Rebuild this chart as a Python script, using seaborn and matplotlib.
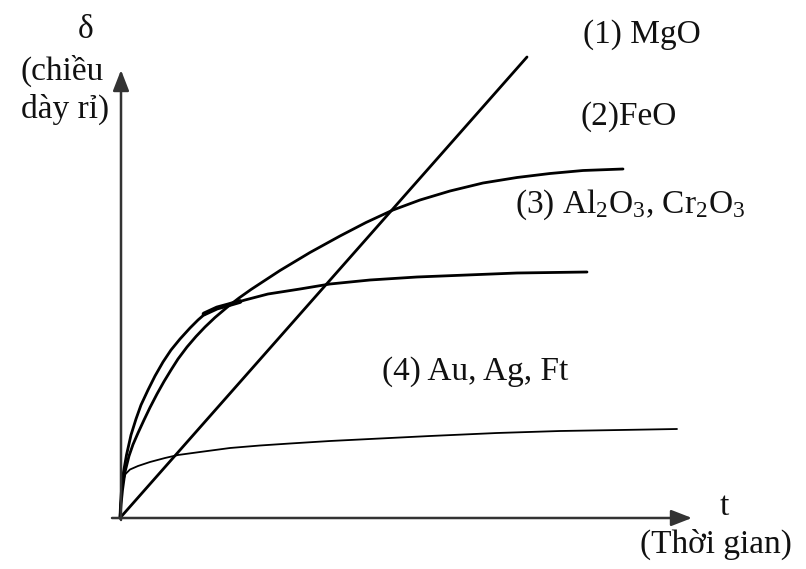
import matplotlib
matplotlib.use("Agg")
import matplotlib.pyplot as plt
import seaborn as sns
import pandas as pd

sns.set_theme(style="white")
plt.rcParams['font.family'] = ['Liberation Serif', 'DejaVu Serif']
plt.rcParams['mathtext.fontset'] = 'custom'
plt.rcParams['mathtext.rm'] = 'Liberation Serif'
plt.rcParams['mathtext.it'] = 'Liberation Serif:italic'

# ---- data (t in arbitrary time units, delta = oxide thickness) ----
mgo_t = [0.0, 4.07]
mgo_d = [0.0, 4.61]

feo_t = [0.0, 0.01, 0.025, 0.05, 0.09, 0.13, 0.18, 0.24, 0.30, 0.37, 0.44, 0.51, 0.58, 0.67, 0.76,
         0.85, 0.95, 1.08, 1.19, 1.31, 1.60, 1.90, 2.20, 2.46, 2.73, 3.00, 3.30, 3.63, 3.97, 4.30,
         4.63, 5.03]
feo_d = [0.0, 0.13, 0.28, 0.46, 0.62, 0.735, 0.85, 0.98, 1.105, 1.24, 1.365, 1.48, 1.59, 1.71, 1.815,
         1.91, 2.005, 2.115, 2.20, 2.285, 2.475, 2.655, 2.82, 2.955, 3.08, 3.18, 3.27, 3.35, 3.405, 3.445,
         3.475, 3.49]

al_t = [0.0, 0.005, 0.015, 0.035, 0.065, 0.11, 0.16, 0.21, 0.28, 0.35, 0.43, 0.51, 0.60, 0.70, 0.78,
        0.86, 0.97, 1.08, 1.25, 1.48, 1.80, 2.10, 2.50, 2.97, 3.47, 3.97, 4.67]
al_d = [0.0, 0.13, 0.28, 0.46, 0.63, 0.83, 0.99, 1.13, 1.28, 1.42, 1.56, 1.68, 1.79, 1.90, 1.98,
        2.05, 2.10, 2.13, 2.18, 2.24, 2.29, 2.34, 2.38, 2.41, 2.43, 2.45, 2.46]

al_bold_t = [0.84, 0.97, 1.08, 1.20]
al_bold_d = [2.04, 2.10, 2.13, 2.165]

au_t = [0.0, 0.005, 0.015, 0.03, 0.055, 0.10, 0.18, 0.30, 0.45, 0.58, 0.80, 1.10, 1.40, 1.70, 2.10,
        2.60, 3.10, 3.77, 4.40, 5.00, 5.57]
au_d = [0.0, 0.13, 0.28, 0.37, 0.44, 0.485, 0.52, 0.56, 0.60, 0.63, 0.66, 0.70, 0.725, 0.745, 0.77,
        0.795, 0.82, 0.85, 0.87, 0.88, 0.89]

labels = ["(1) MgO", "(2)FeO",
          r"(3) Al$\mathregular{_2}$O$\mathregular{_3}$, Cr$\mathregular{_2}$O$\mathregular{_3}$",
          "(4) Au, Ag, Ft"]

W, H = 806, 569
fig = plt.figure(figsize=(W / 100, H / 100), dpi=100)
ax = fig.add_axes([0, 0, 1, 1])
ox, oy = 120, 518
ax.set_xlim(-ox / 100, (W - ox) / 100)
ax.set_ylim(-(H - oy) / 100, oy / 100)
ax.axis('off')


def p(px, py):
    return ((px - ox) / 100, (oy - py) / 100)


def df(t, d):
    return pd.DataFrame({"t": t, "d": d})


kw = dict(ax=ax, color="black", sort=False, estimator=None)
sns.lineplot(data=df(mgo_t, mgo_d), x="t", y="d", lw=2.0, **kw)
sns.lineplot(data=df(feo_t, feo_d), x="t", y="d", lw=2.0, **kw)
sns.lineplot(data=df(al_t, al_d), x="t", y="d", lw=2.0, **kw)
sns.lineplot(data=df(al_bold_t, al_bold_d), x="t", y="d", lw=3.4, solid_capstyle="round", **kw)
sns.lineplot(data=df(au_t, au_d), x="t", y="d", lw=1.3, **kw)

# axes with arrows
axis_col = "#333333"
astyle = "-|>,head_length=0.9,head_width=0.35"
ax.annotate("", xy=p(692, 518), xytext=p(112, 518),
            arrowprops=dict(arrowstyle=astyle, mutation_scale=14,
                            color=axis_col, lw=1.8, shrinkA=0, shrinkB=0))
ax.annotate("", xy=p(121, 70), xytext=p(121, 520),
            arrowprops=dict(arrowstyle=astyle, mutation_scale=14,
                            color=axis_col, lw=1.8, shrinkA=0, shrinkB=0))

fs = 24
tc = "#111111"
ax.text(*p(642, 43), labels[0], fontsize=fs, ha="center", va="baseline", color=tc)
ax.text(*p(629, 125), labels[1], fontsize=fs, ha="center", va="baseline", color=tc)
ax.text(*p(630, 213), labels[2], fontsize=fs, ha="center", va="baseline", color=tc)
ax.text(*p(475, 380), labels[3], fontsize=fs, ha="center", va="baseline", color=tc)
ax.text(*p(86, 38), "δ", fontsize=fs, ha="center", va="baseline", color=tc)
ax.text(*p(62, 80), "(chiều", fontsize=fs, ha="center", va="baseline", color=tc)
ax.text(*p(65, 118), "dày rỉ)", fontsize=fs, ha="center", va="baseline", color=tc)
ax.text(*p(724, 515), "t", fontsize=fs, ha="center", va="baseline", color=tc)
ax.text(*p(716, 553), "(Thời gian)", fontsize=fs, ha="center", va="baseline", color=tc)

fig.savefig("out.png", dpi=100)
